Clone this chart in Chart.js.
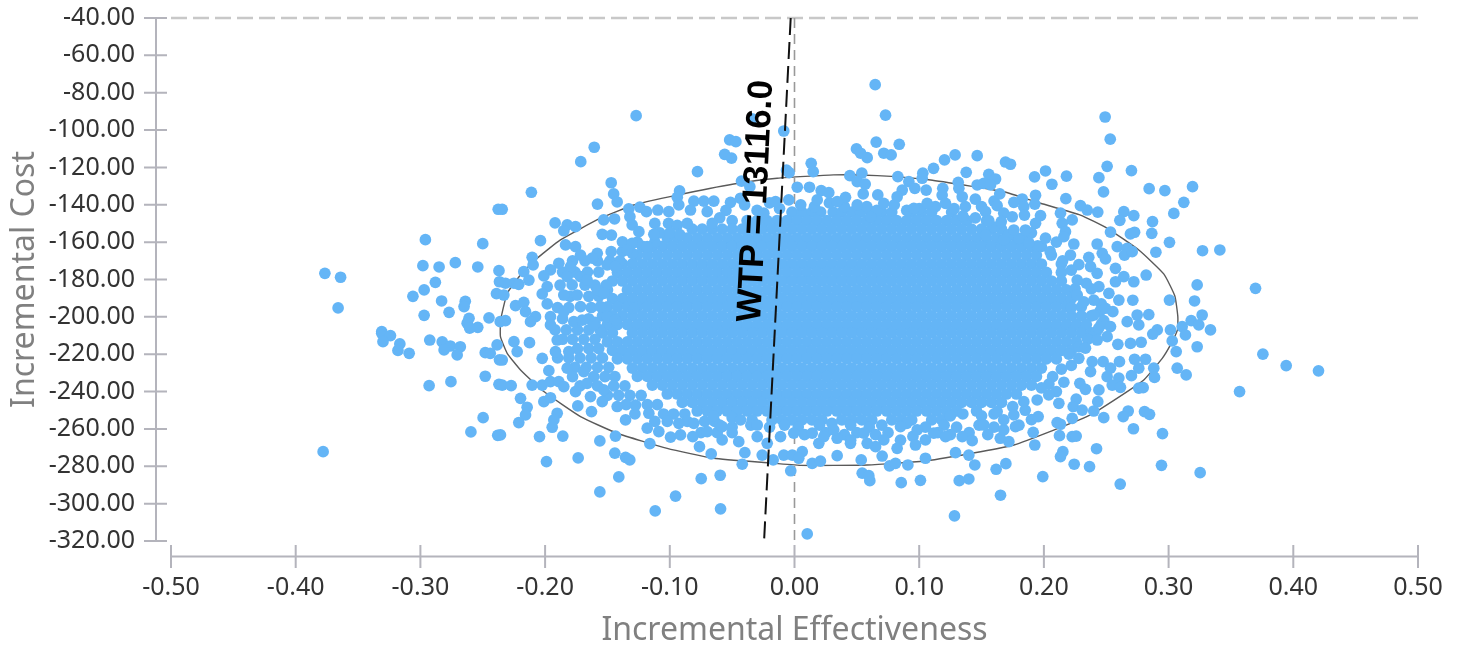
<!DOCTYPE html>
<html><head><meta charset="utf-8">
<style>html,body{margin:0;padding:0;background:#fff}canvas{display:block}</style>
<script src="https://cdn.jsdelivr.net/npm/chart.js@4"></script>
</head><body><canvas id="c" width="1460" height="648"></canvas>
<script>
const xTicks=[-0.5,-0.4,-0.3,-0.2,-0.1,0,0.1,0.2,0.3,0.4,0.5];
const yTicks=[-40,-60,-80,-100,-120,-140,-160,-180,-200,-220,-240,-260,-280,-300,-320];
const wtpValue=13116;
const wtpLine=[[-0.00305,-40],[-0.0244,-320]];
const zeroLine=[[0,-40],[0,-320]];
const topLine=[[-0.5,-40],[0.5,-40]];
const ellipse=[[-0.2358,-201.7],[-0.2304,-187.4],[-0.2197,-177.6],[-0.2063,-168.6],[-0.1877,-158.8],[-0.1556,-147.2],[-0.1289,-140.1],[-0.0941,-134.8],[-0.0487,-128.9],[-0.0139,-125.8],[0.0313,-124],[0.0663,-124.4],[0.1091,-126.7],[0.1438,-130.3],[0.1678,-133],[0.1973,-139.2],[0.2293,-145.5],[0.2508,-152.6],[0.2761,-164.2],[0.2961,-177],[0.305,-188.8],[0.3074,-199.9],[0.3071,-207],[0.3015,-215],[0.2949,-222.2],[0.2801,-233.8],[0.2668,-240],[0.2374,-252.5],[0.2079,-260.6],[0.1759,-268.6],[0.1492,-272.2],[0.1064,-277],[0.0583,-279.3],[0.0048,-279.5],[-0.0219,-278.1],[-0.0647,-275.7],[-0.1021,-270.4],[-0.1422,-262.3],[-0.1716,-253.4],[-0.201,-240],[-0.2197,-228.4],[-0.2304,-219.5],[-0.2358,-210.6],[-0.2358,-201.7]];
const coreCost=[-143.9,-148.5,-153,-157.8,-162.3,-166.9,-171.7,-176.2,-180.8,-185.6,-190.2,-194.7,-199.5,-204.1,-208.6,-213.4,-218,-222.5,-227.4,-231.9,-236.5,-241.3,-245.8,-250.4,-255.2];
const coreEffect=[
[-0.002,0.006,0.014,0.021,0.031,0.038,0.046,0.053,0.062,0.070,0.078,0.094,0.102,0.110,0.126],
[-0.050,-0.038,-0.030,-0.022,-0.014,-0.006,0.002,0.010,0.018,0.026,0.034,0.042,0.050,0.058,0.066,0.074,0.082,0.090,0.098,0.106,0.114,0.122,0.130,0.138,0.154],
[-0.082,-0.074,-0.066,-0.058,-0.050,-0.042,-0.034,-0.026,-0.018,-0.010,-0.002,0.006,0.014,0.022,0.030,0.038,0.046,0.054,0.062,0.070,0.078,0.086,0.094,0.102,0.110,0.118,0.126,0.134,0.142,0.150,0.158,0.166],
[-0.102,-0.094,-0.086,-0.078,-0.070,-0.062,-0.054,-0.046,-0.038,-0.030,-0.022,-0.014,-0.006,0.002,0.010,0.018,0.026,0.034,0.042,0.050,0.058,0.066,0.074,0.082,0.090,0.098,0.106,0.114,0.122,0.130,0.138,0.146,0.154,0.162,0.170,0.178,0.186],
[-0.122,-0.114,-0.106,-0.098,-0.090,-0.082,-0.074,-0.066,-0.058,-0.050,-0.042,-0.034,-0.026,-0.018,-0.010,-0.002,0.006,0.014,0.022,0.030,0.038,0.046,0.054,0.062,0.070,0.078,0.086,0.094,0.102,0.110,0.118,0.126,0.134,0.142,0.150,0.158,0.166,0.174,0.182,0.190,0.198],
[-0.126,-0.118,-0.110,-0.102,-0.094,-0.086,-0.078,-0.070,-0.062,-0.054,-0.046,-0.038,-0.030,-0.022,-0.014,-0.006,0.002,0.010,0.018,0.026,0.034,0.042,0.050,0.058,0.066,0.074,0.082,0.090,0.098,0.106,0.114,0.122,0.130,0.138,0.146,0.154,0.162,0.170,0.178,0.186,0.194,0.206],
[-0.138,-0.130,-0.122,-0.114,-0.106,-0.098,-0.090,-0.082,-0.074,-0.066,-0.058,-0.050,-0.042,-0.034,-0.026,-0.018,-0.010,-0.002,0.006,0.014,0.022,0.030,0.038,0.046,0.054,0.062,0.070,0.078,0.086,0.094,0.102,0.110,0.118,0.126,0.134,0.142,0.150,0.158,0.166,0.174,0.182,0.190,0.198,0.214],
[-0.142,-0.134,-0.126,-0.118,-0.110,-0.102,-0.094,-0.086,-0.078,-0.070,-0.062,-0.054,-0.046,-0.038,-0.030,-0.022,-0.014,-0.006,0.002,0.010,0.018,0.026,0.034,0.042,0.050,0.058,0.066,0.074,0.082,0.090,0.098,0.106,0.114,0.122,0.130,0.138,0.146,0.154,0.162,0.170,0.178,0.186,0.194,0.202,0.214],
[-0.146,-0.138,-0.130,-0.122,-0.114,-0.106,-0.098,-0.090,-0.082,-0.074,-0.066,-0.058,-0.050,-0.042,-0.034,-0.026,-0.018,-0.010,-0.002,0.006,0.014,0.022,0.030,0.038,0.046,0.054,0.062,0.070,0.078,0.086,0.094,0.102,0.110,0.118,0.126,0.134,0.142,0.150,0.158,0.166,0.174,0.182,0.190,0.198,0.206,0.214],
[-0.150,-0.134,-0.126,-0.118,-0.110,-0.102,-0.094,-0.086,-0.078,-0.070,-0.062,-0.054,-0.046,-0.038,-0.030,-0.022,-0.014,-0.006,0.002,0.010,0.018,0.026,0.034,0.042,0.050,0.058,0.066,0.074,0.082,0.090,0.098,0.106,0.114,0.122,0.130,0.138,0.146,0.154,0.162,0.170,0.178,0.186,0.194,0.202,0.210,0.218],
[-0.146,-0.138,-0.130,-0.122,-0.114,-0.106,-0.098,-0.090,-0.082,-0.074,-0.066,-0.058,-0.050,-0.042,-0.034,-0.026,-0.018,-0.010,-0.002,0.006,0.014,0.022,0.030,0.038,0.046,0.054,0.062,0.070,0.078,0.086,0.094,0.102,0.110,0.118,0.126,0.134,0.142,0.150,0.158,0.166,0.174,0.182,0.190,0.198,0.206,0.214,0.222],
[-0.150,-0.142,-0.134,-0.126,-0.118,-0.110,-0.102,-0.094,-0.086,-0.078,-0.070,-0.062,-0.054,-0.046,-0.038,-0.030,-0.022,-0.014,-0.006,0.002,0.010,0.018,0.026,0.034,0.042,0.050,0.058,0.066,0.074,0.082,0.090,0.098,0.106,0.114,0.122,0.130,0.138,0.146,0.154,0.162,0.170,0.178,0.186,0.194,0.202,0.210,0.218,0.230],
[-0.154,-0.146,-0.138,-0.130,-0.122,-0.114,-0.106,-0.098,-0.090,-0.082,-0.074,-0.066,-0.058,-0.050,-0.042,-0.034,-0.026,-0.018,-0.010,-0.002,0.006,0.014,0.022,0.030,0.038,0.046,0.054,0.062,0.070,0.078,0.086,0.094,0.102,0.110,0.118,0.126,0.134,0.142,0.150,0.158,0.166,0.174,0.182,0.190,0.198,0.206,0.214,0.222,0.230,0.238],
[-0.150,-0.142,-0.134,-0.126,-0.118,-0.110,-0.102,-0.094,-0.086,-0.078,-0.070,-0.062,-0.054,-0.046,-0.038,-0.030,-0.022,-0.014,-0.006,0.002,0.010,0.018,0.026,0.034,0.042,0.050,0.058,0.066,0.074,0.082,0.090,0.098,0.106,0.114,0.122,0.130,0.138,0.146,0.154,0.162,0.170,0.178,0.186,0.194,0.202,0.210,0.218,0.226,0.234],
[-0.154,-0.146,-0.130,-0.122,-0.114,-0.106,-0.098,-0.090,-0.082,-0.074,-0.066,-0.058,-0.050,-0.042,-0.034,-0.026,-0.018,-0.010,-0.002,0.006,0.014,0.022,0.030,0.038,0.046,0.054,0.062,0.070,0.078,0.086,0.094,0.102,0.110,0.118,0.126,0.134,0.142,0.150,0.158,0.166,0.174,0.182,0.190,0.198,0.206,0.214,0.222,0.230,0.238],
[-0.150,-0.142,-0.134,-0.126,-0.118,-0.110,-0.102,-0.094,-0.086,-0.078,-0.070,-0.062,-0.054,-0.046,-0.038,-0.030,-0.022,-0.014,-0.006,0.002,0.010,0.018,0.026,0.034,0.042,0.050,0.058,0.066,0.074,0.082,0.090,0.098,0.106,0.114,0.122,0.130,0.138,0.146,0.154,0.162,0.170,0.178,0.186,0.194,0.202,0.210,0.218,0.226],
[-0.146,-0.138,-0.130,-0.122,-0.114,-0.106,-0.098,-0.090,-0.082,-0.074,-0.066,-0.058,-0.050,-0.042,-0.034,-0.026,-0.018,-0.010,-0.002,0.006,0.014,0.022,0.030,0.038,0.046,0.054,0.062,0.070,0.078,0.086,0.094,0.102,0.110,0.118,0.126,0.134,0.142,0.150,0.158,0.166,0.174,0.182,0.190,0.198,0.206,0.214,0.222],
[-0.142,-0.134,-0.126,-0.118,-0.110,-0.102,-0.094,-0.086,-0.078,-0.070,-0.062,-0.054,-0.046,-0.038,-0.030,-0.022,-0.014,-0.006,0.002,0.010,0.018,0.026,0.034,0.042,0.050,0.058,0.066,0.074,0.082,0.090,0.098,0.106,0.114,0.122,0.130,0.138,0.146,0.154,0.162,0.170,0.178,0.186,0.194,0.202,0.210],
[-0.130,-0.122,-0.114,-0.106,-0.098,-0.090,-0.082,-0.074,-0.066,-0.058,-0.050,-0.042,-0.034,-0.026,-0.018,-0.010,-0.002,0.006,0.014,0.022,0.030,0.038,0.046,0.054,0.062,0.070,0.078,0.086,0.094,0.102,0.110,0.118,0.126,0.134,0.142,0.150,0.158,0.166,0.174,0.182,0.190,0.198],
[-0.126,-0.118,-0.110,-0.102,-0.094,-0.086,-0.078,-0.070,-0.062,-0.054,-0.046,-0.038,-0.030,-0.022,-0.014,-0.006,0.002,0.010,0.018,0.026,0.034,0.042,0.050,0.058,0.066,0.074,0.082,0.090,0.098,0.106,0.114,0.122,0.130,0.138,0.146,0.154,0.162,0.170,0.178,0.186,0.194],
[-0.114,-0.106,-0.098,-0.090,-0.082,-0.074,-0.066,-0.058,-0.050,-0.042,-0.034,-0.026,-0.018,-0.010,-0.002,0.006,0.014,0.022,0.030,0.038,0.046,0.054,0.062,0.070,0.078,0.086,0.094,0.102,0.110,0.118,0.126,0.134,0.142,0.150,0.158,0.166,0.174,0.182,0.190],
[-0.102,-0.094,-0.086,-0.078,-0.070,-0.062,-0.054,-0.046,-0.038,-0.030,-0.022,-0.014,-0.006,0.002,0.010,0.018,0.026,0.034,0.042,0.050,0.058,0.066,0.074,0.082,0.090,0.098,0.106,0.114,0.122,0.130,0.138,0.146,0.154,0.162,0.170,0.178],
[-0.090,-0.082,-0.074,-0.066,-0.058,-0.050,-0.042,-0.034,-0.026,-0.018,-0.010,-0.002,0.006,0.014,0.022,0.030,0.038,0.046,0.054,0.062,0.070,0.078,0.086,0.094,0.102,0.110,0.118,0.126,0.134,0.142,0.150,0.158,0.166],
[-0.078,-0.070,-0.062,-0.054,-0.046,-0.038,-0.030,-0.022,-0.014,-0.006,0.002,0.010,0.018,0.026,0.034,0.042,0.050,0.058,0.066,0.074,0.082,0.090,0.098,0.106,0.114,0.122,0.130,0.146],
[-0.034,-0.018,-0.010,-0.002,0.006,0.014,0.022,0.038,0.046,0.054,0.062,0.078,0.086,0.094,0.110,0.118]
];
const ringPoints=[[-0.178,-170],[-0.168,-170],[-0.158,-170],[-0.186,-176],[-0.176,-176],[-0.166,-176],[-0.157,-176],[-0.188,-183],[-0.168,-183],[-0.16,-183],[-0.151,-183],[-0.18,-189],[-0.165,-189],[-0.157,-189],[-0.19,-195],[-0.181,-195],[-0.163,-195],[-0.186,-201],[-0.165,-201],[-0.16,-203],[-0.192,-207],[-0.183,-207],[-0.174,-207],[-0.165,-207],[-0.156,-207],[-0.186,-212],[-0.178,-212],[-0.169,-212],[-0.16,-212],[-0.174,-217],[-0.165,-217],[-0.157,-217],[-0.19,-222],[-0.181,-222],[-0.172,-222],[-0.163,-222],[-0.154,-222],[-0.176,-227],[-0.167,-227],[-0.158,-227],[-0.149,-227],[-0.178,-232],[-0.161,-232],[-0.152,-232],[-0.144,-232],[-0.172,-237],[-0.158,-237],[-0.145,-237],[-0.136,-237],[-0.15,-242],[-0.141,-242],[-0.132,-242],[-0.123,-242],[-0.135,-247],[-0.118,-247],[-0.11,-247],[-0.128,-252],[-0.105,-252],[-0.097,-252],[-0.088,-252],[-0.112,-256],[-0.102,-256],[-0.086,-256],[-0.072,-256],[-0.064,-256],
[-0.112,-150],[-0.101,-150],[-0.094,-151],[-0.108,-155],[-0.1,-155],[-0.092,-156],[-0.126,-160],[-0.112,-160],[-0.138,-165],[-0.13,-166],[-0.148,-170],[-0.14,-170],
[0.005,-140],[0.016,-141],[0.028,-139],[0.04,-141],[0.058,-141],[0.066,-143],[0.08,-140],[0.09,-143],[0.1,-142],[0.113,-141],[0.128,-142],[0.137,-141],[0.145,-137],[0.15,-141],[0.16,-138],[-0.012,-142],[-0.02,-139],[-0.03,-143],[-0.04,-140],[-0.055,-143],[-0.06,-147],[-0.066,-150],
[0.135,-146],[0.145,-147],[0.16,-152],[0.172,-156],[0.18,-158],[0.19,-155],[0.195,-162],[0.205,-165],[0.21,-160],[0.215,-170],[0.222,-175],[0.228,-172],[0.225,-185],[0.232,-192],[0.238,-185],[0.246,-193],[0.246,-204],[0.242,-208],[0.222,-195],[0.234,-182],[0.245,-197],[0.244,-206],[0.248,-202],[0.235,-212],[0.228,-216],[0.22,-220],[0.222,-226],[0.214,-228],[0.207,-232],[0.204,-236],[0.198,-238],[0.216,-235],[0.21,-240],
[-0.06,-258],[-0.05,-259],[-0.035,-258],[-0.02,-259],[-0.008,-258],[0.003,-259],[0.02,-258],[0.03,-257],[0.045,-258],[0.06,-259],[0.07,-258],[0.09,-257],[0.105,-259],[0.12,-258],[0.13,-259],[0.148,-258],[0.16,-259],[-0.075,-262],[-0.062,-262],[-0.05,-262],[0.008,-263],[0.025,-262],[0.04,-263],[0.05,-262],[0.065,-263],[0.075,-262],[0.095,-264],[0.115,-262],[0.125,-263],[0.14,-262],[0.045,-266],[0.085,-266],[-0.065,-253],[-0.05,-254],[0.125,-253],[0.135,-252],[0.15,-253],[0.16,-252],[0.175,-248],[0.185,-250],[0.19,-255],[0.18,-258],[0.155,-263],[0.165,-265]];
const leftPoints=[[-0.3766,-176.7],[-0.364,-178.8],[-0.366,-195.2],[-0.296,-158.7],[-0.25,-160.8],[-0.2376,-142.4],[-0.298,-172.6],[-0.285,-173.3],[-0.272,-171],[-0.254,-173.3],[-0.237,-175.3],[-0.288,-181.5],[-0.2366,-181.2],[-0.297,-185.6],[-0.306,-189],[-0.239,-187.6],[-0.283,-191.5],[-0.264,-191.7],[-0.265,-194.5],[-0.277,-197.6],[-0.297,-199.2],[-0.261,-200.8],[-0.245,-200.5],[-0.2625,-203.4],[-0.254,-205.6],[-0.331,-207.9],[-0.236,-202.6],[-0.2605,-206],[-0.331,-208.8],[-0.324,-210],[-0.33,-213.3],[-0.3165,-214.5],[-0.318,-218],[-0.309,-219.5],[-0.2925,-212.4],[-0.2825,-213.4],[-0.276,-215.6],[-0.281,-217.7],[-0.268,-216],[-0.2705,-220.4],[-0.248,-219.2],[-0.244,-219.5],[-0.2385,-215],[-0.2366,-223],[-0.293,-236.8],[-0.2755,-234.7],[-0.248,-231.8],[-0.237,-236.1],[-0.2497,-254],[-0.2595,-261.6],[-0.238,-263.4],[-0.378,-272.2]];
const topPoints=[[-0.127,-92.3],[-0.1606,-109.2],[-0.1714,-116.9],[-0.211,-133.3],[-0.2344,-142.4],[-0.052,-105.3],[-0.047,-106.2],[-0.056,-113],[-0.0505,-115],[-0.0778,-122.3],[-0.034,-94],[-0.0086,-100.5],[0.0647,-75.7],[0.073,-92],[0.0655,-106.4],[0.084,-107.6],[0.0497,-110.1],[0.053,-112.4],[0.0583,-114.8],[0.0716,-112.4],[0.0775,-113.3],[0.0134,-117.8],[0.015,-122.3],[-0.0064,-121.4],[-0.0043,-122.8],[0.0444,-124.4],[0.054,-123.1],[0.0503,-127.6],[0.0567,-128.9],[0.0829,-124.9],[0.0917,-127.6],[0.1029,-123.1],[0.1024,-125.8],[0.1115,-120.5],[0.1203,-116],[0.1288,-113.3],[0.1465,-113.7],[0.1377,-122.6],[0.1313,-128],[0.1465,-129.4],[0.0965,-131.2],[0.1056,-132.1],[0.1189,-131.2],[0.1184,-134.8],[0.1318,-131.2],[0.1345,-135.7],[0.0864,-132.1],[0.0823,-135.7],[0.0668,-134.7],[0.0551,-134.2],[0.0409,-136],[0.012,-130.6],[0.0022,-130.6],[0.0214,-132.4],[0.0275,-133.5],[0.0182,-137.4],[0.0342,-138.3],[0.0503,-140.1],[0.0716,-139.2],[0.1064,-139.2],[0.0957,-141.9],[0.1211,-139.2],[0.061,-146.4],
[-0.0922,-132.6],[-0.094,-136],[-0.0928,-140.1],[-0.147,-128.2],[-0.145,-134.2],[-0.1422,-138.5],[-0.158,-139.6],[-0.1329,-142.2],[-0.124,-141.3],[-0.1187,-143.7],[-0.1096,-142.8],[-0.1008,-143.7],[-0.0807,-138],[-0.0727,-138],[-0.0647,-138],[-0.0834,-142.8],[-0.07,-143.7],[-0.0513,-138.7],[-0.0433,-136.5],[-0.0425,-127.3],[-0.0358,-130.3],[-0.0246,-144.5],[-0.0152,-138.3],[-0.0046,-137.4],[-0.153,-148.1],[-0.1443,-147.6],[-0.192,-149.7],[-0.1823,-150.8],[-0.1756,-151.7],[-0.185,-153.9],[-0.2037,-159.2],[-0.1542,-155.8],[-0.1468,-156.2],[-0.132,-146.4],[-0.1302,-150.8],[-0.1248,-154.4],[-0.086,-149.9],[-0.1128,-155.8],[-0.138,-159.8],[-0.1302,-160.6],[-0.1342,-164.2],[-0.1181,-162.4],[-0.1836,-161.5],[-0.1756,-162.4],[-0.1716,-166.9],[-0.1582,-166],[-0.1622,-168.6],[-0.147,-165.1],[-0.2104,-168.1],[-0.2096,-172.2],[-0.2171,-175.8],[-0.189,-171.3],[-0.1957,-174.9],[-0.201,-178.1],[-0.213,-180.3],[-0.225,-182],[-0.2318,-182],[-0.2211,-182.6],[-0.1502,-172.2],[-0.1436,-173.1],[-0.1796,-173.1],[-0.1823,-178.5],[-0.1716,-178.5],[-0.1783,-182.9],[-0.1663,-180.3],[-0.1983,-183.8],[-0.2023,-187.7],[-0.185,-188.3],[-0.1743,-188.3],[-0.1716,-194.5],[-0.1983,-193.1],[-0.2237,-194],[-0.2171,-192.2],[-0.2157,-197.2],[-0.2077,-199.9],[-0.2331,-188.3],[-0.2318,-202],[-0.2117,-202.6],[-0.1957,-199.9],[-0.185,-197.2],[-0.1957,-204.3],[-0.1582,-185.6],[-0.1529,-187.4],[-0.1556,-194.5],[-0.1502,-199.9],[-0.1436,-201.7],[-0.1289,-195.4],[-0.177,-202.6],[-0.1703,-201.7],[-0.161,-204.3]];
const bottomPoints=[[-0.225,-213.3],[-0.2224,-218.6],[-0.2125,-213.8],[-0.2344,-223.1],[-0.2023,-222.2],[-0.197,-228.8],[-0.1903,-212.4],[-0.1917,-218.6],[-0.181,-218.6],[-0.1823,-227.5],[-0.169,-229.3],[-0.2344,-236.5],[-0.2272,-236.8],[-0.2104,-236.5],[-0.2023,-236.5],[-0.1957,-234.7],[-0.189,-234.7],[-0.185,-237.3],[-0.1756,-240],[-0.1663,-235.6],[-0.1636,-242.7],[-0.1542,-245.4],[-0.153,-239.1],[-0.2197,-243.6],[-0.201,-245.4],[-0.1957,-243.3],[-0.2144,-248.4],[-0.2157,-252.5],[-0.2211,-256.6],[-0.2358,-263.2],[-0.1738,-247.7],[-0.1628,-250.7],[-0.1903,-251.6],[-0.193,-255.2],[-0.1943,-259.1],[-0.2045,-264.1],[-0.1858,-263.8],[-0.1989,-277.5],[-0.1735,-275.5],[-0.1561,-266.4],[-0.1436,-263.8],[-0.1441,-273],[-0.1355,-275.2],[-0.1321,-276.6],[-0.1409,-285.7],[-0.1561,-293.7],[-0.1117,-303.9],[-0.0954,-296],[-0.0593,-302.8],[-0.0748,-286.6],[-0.0596,-284.8],[-0.116,-267.9],[-0.1181,-259.6],[-0.1088,-261.4],[-0.0994,-264.4],[-0.0914,-263.2],[-0.0928,-257],[-0.0816,-264.1],[-0.0762,-269.5],[-0.0668,-273.4],[-0.07,-261.4],[-0.058,-265.9],[-0.0447,-266.8],[-0.0398,-272.7],[-0.0419,-278.9],[-0.0259,-274],[-0.0171,-276.6],[-0.003,-282.4],[0.0102,-316.2],[-0.0086,-274],[-0.0018,-274],[0.0062,-272.2],[0.0034,-275.7],[0.0142,-278.4],[0.0208,-277.2],[0.0342,-274.3],[0.0535,-276.6],[0.0543,-283.7],[0.0604,-287.7],[0.0596,-285],[0.0856,-288.8],[0.101,-287.5],[0.0762,-279.8],[0.081,-278.4],[0.0909,-279.3],[0.105,-275.7],[0.0703,-274.5],[0.0823,-270.4],[0.0716,-265.9],[0.065,-269.5],[0.0583,-267.7],[0.0449,-267.7],[0.0195,-267.7],[0.0235,-264.1],[0.0342,-265],[0.097,-268.6],[0.105,-265.9],[0.1211,-264.1],[0.1291,-272.7],[0.1345,-264.1],[0.1425,-266.3],[0.1398,-274],[0.1446,-279.3],[0.1398,-286.8],[0.1321,-287.7],[0.1283,-306.6],[-0.0299,-257.9],[-0.0299,-264.1],[-0.0219,-267.7],[-0.0112,-264.1],[-0.0006,-262.3],[0.0142,-262.3],[-0.058,-258.8],[-0.0433,-255.2],[-0.0807,-257],[-0.1355,-255.2],[-0.1422,-248],[-0.1275,-247.2],[-0.1168,-251.6],[0.0315,-260.5],[0.0556,-262.3],[0.085,-258.8],[0.0984,-260.5],[0.1117,-262.3]];
const rightPoints=[[0.2491,-93],[0.2532,-104.9],[0.2507,-119.4],[0.2441,-125.5],[0.2478,-133.1],[0.2702,-121.7],[0.2844,-131.4],[0.297,-132.4],[0.3192,-130.3],[0.3122,-138.7],[0.3042,-144.6],[0.2871,-149],[0.2865,-155.3],[0.3007,-160.1],[0.2898,-165.4],[0.3272,-164.6],[0.3411,-164.2],[0.3229,-182.9],[0.3697,-184.7],[0.3208,-191.5],[0.3007,-191],[0.3269,-199],[0.2841,-198.8],[0.2713,-191.1],[0.282,-177.6],[0.2641,-143.7],[0.2721,-145.8],[0.2609,-148.3],[0.2432,-143.9],[0.2347,-142.8],[0.2293,-140.5],[0.2176,-136.7],[0.2181,-124.7],[0.2064,-129],[0.2013,-121.9],[0.1925,-125.1],[0.1933,-134.9],[0.1927,-139.6],[0.1692,-117.1],[0.1732,-118.3],[0.1558,-123.7],[0.1612,-126.2],[0.1518,-128.5],[0.1572,-129.4],[0.1646,-134.2],[0.1826,-136.9],[0.1759,-138.7],[0.1625,-140.5],[0.1839,-141],[0.1532,-143.7],[0.1678,-144.5],[0.1746,-146.4],[0.1844,-145.5],[0.1973,-145.8],[0.1558,-148.5],[0.1658,-149],[0.1933,-149.9],[0.1852,-153.5],[0.1759,-153.5],[0.1532,-156.2],[0.2133,-144.5],[0.2227,-148.1],[0.2147,-149.9],[0.2173,-154.4],[0.216,-157.1],[0.2013,-157.9],[0.1678,-158.8],[0.1879,-160.3],[0.224,-161],[0.2427,-161],[0.2534,-154.6],[0.2694,-155.6],[0.2727,-154.7],[0.2588,-162.4],[0.2668,-163.3],[0.2646,-166.9],[0.2708,-165.1],[0.2468,-166],[0.2494,-169],[0.236,-168.1],[0.2213,-166.9],[0.2574,-174],[0.2374,-173.1],[0.2267,-180.3],[0.2427,-176.7],[0.2641,-178.5],[0.2574,-181.2],[0.2721,-181.2],[0.2441,-183.8],[0.2521,-187.4],[0.2601,-191],[0.2267,-188.3],[0.24,-191],[0.2494,-195.4],[0.2553,-197.2],[0.24,-199],[0.2748,-199],[0.2668,-202.6],[0.2761,-204.3],[0.2534,-205.2],[0.2909,-207],[0.3015,-207],[0.3109,-205.2],[0.3181,-202],[0.3242,-204.3],[0.3336,-207],
[0.3135,-209.7],[0.3029,-212.9],[0.3229,-216],[0.3061,-218.6],[0.3756,-220],[0.3943,-226.1],[0.4202,-228.9],[0.3569,-240],[0.3069,-227.5],[0.3141,-231.1],[0.2881,-227.5],[0.2887,-232.4],[0.2702,-231.5],[0.2727,-222.7],[0.2815,-222.7],[0.2761,-227.5],[0.2606,-224],[0.2475,-224],[0.2593,-214.7],[0.2694,-214.2],[0.278,-213.6],[0.2427,-212.4],[0.2507,-210.6],[0.2873,-209.2],[0.2333,-216.8],[0.228,-222.2],[0.2387,-224],[0.2374,-229.3],[0.2534,-227.5],[0.2507,-232],[0.2601,-232.8],[0.2548,-236.5],[0.2614,-237.7],[0.2761,-238.2],[0.2796,-237.9],[0.2288,-235.6],[0.2333,-238.8],[0.2441,-239.1],[0.2432,-245.4],[0.2259,-244],[0.2235,-248],[0.2307,-249.9],[0.24,-250.4],[0.248,-254],[0.2227,-254.3],[0.2676,-250.4],[0.2636,-253.4],[0.2807,-250.7],[0.2847,-252.2],[0.2718,-259.9],[0.2951,-262.5],[0.2943,-279.5],[0.3253,-283.4],[0.2612,-289.5],[0.2422,-270.6],[0.2152,-272.2],[0.2133,-274.8],[0.2243,-278.9],[0.2366,-280.2],[0.1991,-285.5],[0.1652,-295.5],[0.1617,-281.6],[0.1695,-278.6],[0.1927,-268.6],[0.2125,-263.6],[0.2227,-264.1],[0.2259,-263.8],[0.1914,-261.8],[0.1719,-266.8],[0.2106,-256.6],[0.2133,-257.5],[0.1954,-253.4],[0.212,-246.3],[0.1772,-258.8],[0.1678,-260.5],[0.1759,-252.5],[0.1625,-250.7],[0.1678,-255.2],[0.1518,-257.9],[0.2039,-241.8],[0.1946,-244.5],[0.1839,-245.4]];

const toXY=p=>({x:p[0],y:p[1]});
const corePoints=coreEffect.flatMap((row,i)=>row.map(x=>({x,y:coreCost[i]})));
const scatter=[...corePoints,...[...ringPoints,...leftPoints,...topPoints,...bottomPoints,...rightPoints].map(toXY)];
const TICK='#333333',TITLE='#808080',AXIS='#b4b4bc',FONT='"Noto Sans",sans-serif';
const noPad=s=>{s.paddingLeft=s.paddingRight=s.paddingTop=s.paddingBottom=0;};
const axisPlugin={id:'axisPlugin',
 beforeDatasetsDraw(ch){
  const c=ch.ctx,sx=ch.scales.x,sy=ch.scales.y;
  const ax=sx.left-15,ay=sy.bottom+15.5;
  c.save();c.strokeStyle=AXIS;c.lineWidth=2;c.beginPath();
  c.moveTo(ax,sy.top);c.lineTo(ax,sy.bottom);
  yTicks.forEach(v=>{const p=sy.getPixelForValue(v);c.moveTo(ax-12,p);c.lineTo(ax+11,p);});
  c.moveTo(sx.left,ay);c.lineTo(sx.right,ay);
  xTicks.forEach(v=>{const p=sx.getPixelForValue(v);c.moveTo(p,ay-11.5);c.lineTo(p,ay+11.5);});
  c.stroke();c.restore();
 },
 afterDatasetsDraw(ch){
  const c=ch.ctx,sx=ch.scales.x,sy=ch.scales.y;
  c.save();
  c.translate(sx.getPixelForValue(-0.0305),sy.getPixelForValue(-138));
  c.rotate(-87.1*Math.PI/180);
  c.font='bold 35px "Liberation Sans",sans-serif';c.fillStyle='#000';c.textAlign='center';c.textBaseline='middle';
  c.fillText('WTP = '+wtpValue.toFixed(1),0,0);
  c.restore();
 }};
new Chart(document.getElementById('c'),{
 type:'scatter',
 data:{datasets:[
  {label:'WTP',data:wtpLine.map(toXY),showLine:true,borderColor:'#111',borderWidth:2,borderDash:[17,7],pointRadius:0,clip:false},
  {label:'Simulations',data:scatter,backgroundColor:'#64b5f6',borderWidth:0,pointRadius:5.85,pointHoverRadius:5.85},
  {label:'Ellipse',data:ellipse.map(toXY),showLine:true,borderColor:'#5a5a5a',borderWidth:1.4,pointRadius:0,tension:0.15},
  {label:'Zero',data:zeroLine.map(toXY),showLine:true,borderColor:'#999',borderWidth:1.6,borderDash:[10,6],pointRadius:0,clip:false},
  {label:'Top',data:topLine.map(toXY),showLine:true,borderColor:'#c8c8c8',borderWidth:2.5,borderDash:[16,6],pointRadius:0,clip:false}
 ]},
 options:{responsive:false,animation:false,devicePixelRatio:1,
  layout:{padding:{top:18,right:42,left:0,bottom:0}},
  plugins:{legend:{display:false},tooltip:{enabled:false}},
  scales:{
   x:{type:'linear',min:-0.5,max:0.5,grid:{display:false,drawTicks:false},border:{display:false},
    afterBuildTicks:s=>{s.ticks=xTicks.map(value=>({value}));},
    afterFit:s=>{s.height=107;noPad(s);},
    ticks:{maxRotation:0,autoSkip:false,padding:32,color:TICK,font:{family:FONT,size:25},callback:v=>v.toFixed(2)},
    title:{display:true,text:'Incremental Effectiveness',color:TITLE,font:{family:FONT,size:32},padding:{top:0,bottom:-2}}},
   y:{type:'linear',min:-320,max:-40,grid:{display:false,drawTicks:false},border:{display:false},
    afterBuildTicks:s=>{s.ticks=yTicks.map(value=>({value}));},
    afterFit:s=>{s.width=171;noPad(s);},
    ticks:{autoSkip:false,padding:36,color:TICK,font:{family:FONT,size:25},callback:v=>v.toFixed(2)},
    title:{display:true,text:'Incremental Cost',color:TITLE,font:{family:FONT,size:32},padding:{top:6,bottom:0}}}
  }},
 plugins:[axisPlugin]
});
</script></body></html>
